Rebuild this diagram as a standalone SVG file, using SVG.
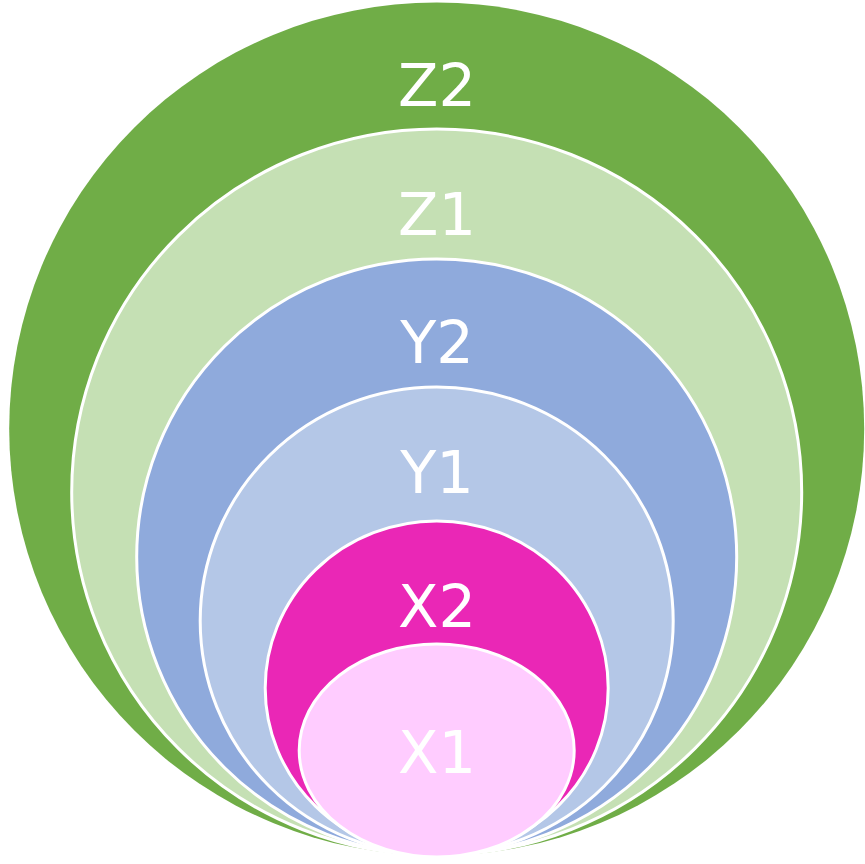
<svg xmlns="http://www.w3.org/2000/svg" width="865" height="864" viewBox="0 0 865 864">
<style>
  .ring { stroke: #FFFFFF; stroke-width: 3; }
  .lbl { font-family: "DejaVu Sans", Verdana, sans-serif; font-size: 59px; fill: #FFFFFF; text-anchor: middle; }
</style>
<rect width="865" height="864" fill="#FFFFFF"/>
<g id="Z2">
  <ellipse cx="436.7" cy="429" rx="427.5" ry="426.5" fill="#70AD47"/>
  <text class="lbl" x="437" y="106">Z2</text>
</g>
<g id="Z1">
  <ellipse class="ring" cx="436.7" cy="492" rx="365" ry="363" fill="#C5E0B4"/>
  <text class="lbl" x="437" y="235">Z1</text>
</g>
<g id="Y2">
  <ellipse class="ring" cx="436.7" cy="557" rx="300" ry="298" fill="#8FAADC"/>
  <text class="lbl" x="437" y="363">Y2</text>
</g>
<g id="Y1">
  <ellipse class="ring" cx="436.7" cy="621" rx="236.5" ry="234" fill="#B4C7E7"/>
  <text class="lbl" x="437" y="493">Y1</text>
</g>
<g id="X2">
  <ellipse class="ring" cx="436.7" cy="688" rx="171.5" ry="167" fill="#EA27B6"/>
  <text class="lbl" x="437" y="627">X2</text>
</g>
<g id="X1">
  <ellipse class="ring" cx="436.7" cy="750.5" rx="137.5" ry="106.5" fill="#FFCCFF"/>
  <text class="lbl" x="437" y="773">X1</text>
</g>
<g id="connectors"></g>
</svg>
